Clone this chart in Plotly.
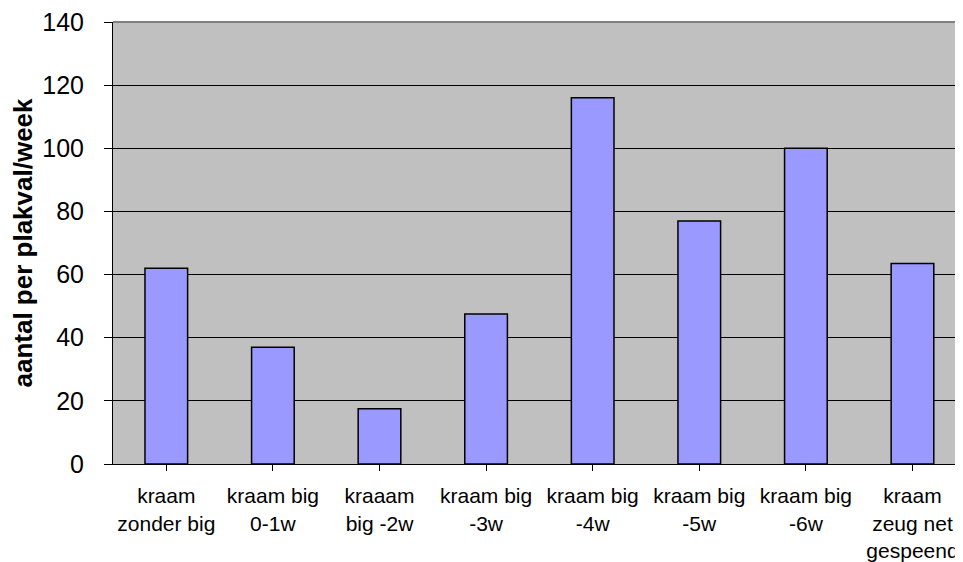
import plotly.graph_objects as go

# data
categories = [
    "kraam<br>zonder big",
    "kraam big<br>0-1w",
    "kraaam<br>big -2w",
    "kraam big<br>-3w",
    "kraam big<br>-4w",
    "kraam big<br>-5w",
    "kraam big<br>-6w",
    "kraam<br>zeug net<br>gespeend",
]
values = [62, 37, 17.5, 47.5, 116, 77, 100, 63.5]
y_ticks = [0, 20, 40, 60, 80, 100, 120, 140]

FONT = "Arial, Liberation Sans, sans-serif"

fig = go.Figure()

fig.add_trace(go.Bar(
    x=list(range(len(categories))),
    y=values,
    marker=dict(color="#9999FF", line=dict(color="black", width=1.5)),
    hoverinfo="skip",
))

# the page body adds an 8px margin, so the figure is 8px smaller
fig.update_layout(
    width=955,
    height=554,
    margin=dict(l=105, r=0, t=12, b=97),
    plot_bgcolor="#C0C0C0",
    paper_bgcolor="white",
    bargap=0.6,
    showlegend=False,
    font=dict(family=FONT, color="black"),
    xaxis=dict(
        range=[-0.5, 7.474],
        tickmode="array",
        tickvals=list(range(len(categories))),
        ticktext=categories,
        tickfont=dict(size=21),
        showgrid=False,
        showline=True,
        linecolor="black",
        linewidth=1,
        ticks="outside",
        tickson="boundaries",
        ticklen=6,
        tickcolor="black",
        ticklabelstandoff=7,
        ticklabeloverflow="allow",
        zeroline=False,
        fixedrange=True,
    ),
    yaxis=dict(
        range=[0, 140],
        tickmode="array",
        tickvals=y_ticks,
        tickfont=dict(size=25),
        showgrid=True,
        gridcolor="black",
        gridwidth=1,
        showline=True,
        linecolor="black",
        linewidth=1,
        ticks="outside",
        ticklen=8,
        tickcolor="black",
        ticklabelstandoff=15,
        ticklabeloverflow="allow",
        zeroline=False,
        title=dict(
            text="<b>aantal per plakval/week</b>",
            font=dict(size=26),
            standoff=9,
        ),
        fixedrange=True,
    ),
)

# grey plot-area border along the top
fig.add_shape(
    type="line", xref="paper", yref="paper",
    x0=0, x1=1, y0=1, y1=1,
    line=dict(color="#808080", width=2),
)

fig.write_html("out.html")
